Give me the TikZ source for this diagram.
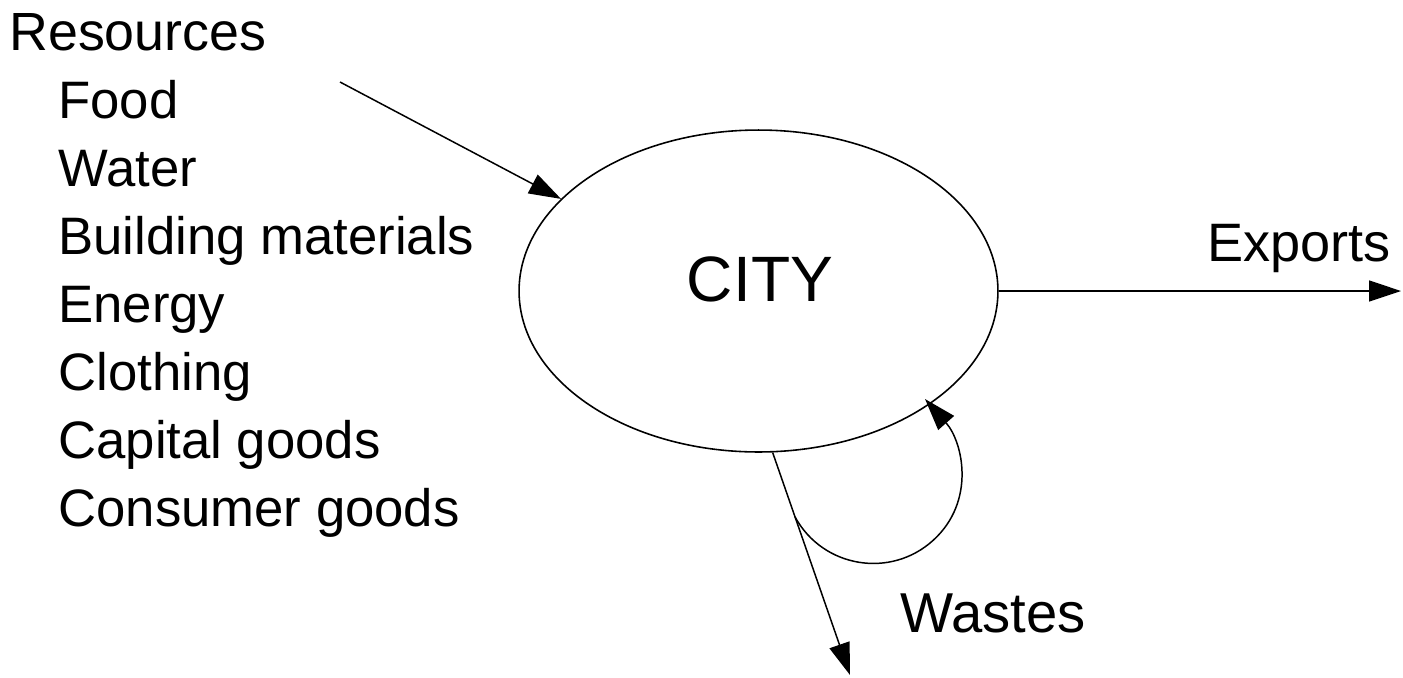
\documentclass[tikz,border=0pt]{standalone}
\usepackage{fontspec}
\setmainfont{Liberation Sans}
\usepackage{tikz}
\usetikzlibrary{shapes.geometric,arrows.meta,calc}

\tikzset{
  lbl/.style={font=\fontsize{30}{36}\selectfont, inner sep=0pt, anchor=base west},
  flow/.style={-{Triangle[length=0.64cm,width=0.42cm]}, line width=0.85pt},
  town/.style={ellipse, draw, line width=0.9pt, inner sep=0pt,
    minimum width=9.58cm, minimum height=6.44cm}
}

\begin{document}
\begin{tikzpicture}[x=0.02cm,y=-0.02cm]
      \useasboundingbox (0,0) rectangle (1403,677);
      \node[town] (city) at (758.5,291) {};
      \node[font=\fontsize{36.5}{40}\selectfont, inner sep=0pt] (citytxt) at (760,279) {CITY};
      \node[lbl, font=\fontsize{30.6}{36}\selectfont] (res) at (9,50) {Resources};
      \foreach \name [count=\i] in {Food, Water, Building materials, Energy,
          Clothing, Capital goods, Consumer goods}
        \node[lbl] (item\i) at (58,{118+68*(\i-1)}) {\name};
      \node[lbl, font=\fontsize{30.8}{36}\selectfont] (exp) at (1207,261) {Exports};
      \node[lbl, font=\fontsize{32}{36}\selectfont] (waste) at (900,632) {Wastes};
      \coordinate (in) at (340,82);
      \coordinate (out) at (1401,291);
      \coordinate (down) at (850,675);
      \draw[flow] (in) -- (city.155);
      \draw[flow] (city.east) -- (out);
      \draw[flow] (city.-85) -- (down);
      \coordinate (loop) at ($(city.-85)!0.29!(down)$);
      \draw[flow] (loop) .. controls (823,568) and (891,579) .. (933.5,540)
        .. controls (976,501) and (963,442) .. (925,399);
    \end{tikzpicture}
\end{document}
